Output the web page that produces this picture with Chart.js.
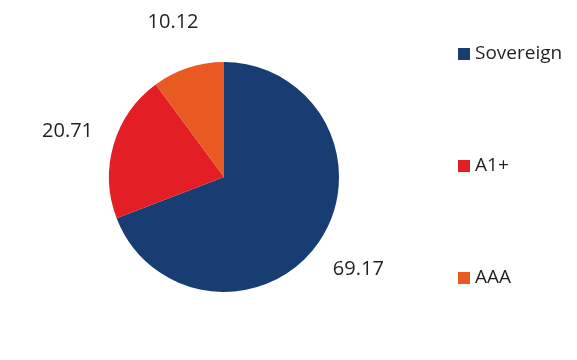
<!DOCTYPE html>
<html>
<head>
<meta charset="utf-8">
<script src="https://cdn.jsdelivr.net/npm/chart.js@4"></script>
<style>
  html, body { margin: 0; padding: 0; background: #fff; }
  #wrap { width: 577px; height: 360px; }
</style>
</head>
<body>
<div id="wrap"><canvas id="pieChart" width="577" height="360"></canvas></div>
<script>
const ratings = ['Sovereign', 'A1+', 'AAA'];
const shares = [69.17, 20.71, 10.12];
const sliceColors = ['#173d72', '#e31e24', '#e85a22'];

const FONT = '"Open Sans", "Noto Sans", sans-serif';
const TEXT_COLOR = '#231f20';

// value labels outside each slice, along the slice's middle angle
const outsideLabels = {
  id: 'outsideLabels',
  afterDatasetsDraw(chart) {
    const ctx = chart.ctx;
    const meta = chart.getDatasetMeta(0);
    ctx.save();
    ctx.font = '20px ' + FONT;
    ctx.fillStyle = TEXT_COLOR;
    ctx.textAlign = 'center';
    ctx.textBaseline = 'middle';
    meta.data.forEach((arc, i) => {
      const mid = (arc.startAngle + arc.endAngle) / 2;
      const dist = arc.outerRadius + 48;
      const x = arc.x + Math.cos(mid) * dist;
      const y = arc.y + Math.sin(mid) * dist;
      ctx.fillText(shares[i].toFixed(2), x, y);
    });
    ctx.restore();
  }
};

// legend on the right with large even gaps
const sideLegend = {
  id: 'sideLegend',
  afterDraw(chart) {
    const ctx = chart.ctx;
    const x0 = 458, y0 = 54, step = 112, box = 12;
    ctx.save();
    ctx.font = '19px ' + FONT;
    ctx.textBaseline = 'middle';
    ctx.textAlign = 'left';
    ratings.forEach((name, i) => {
      const y = y0 + i * step;
      ctx.fillStyle = sliceColors[i];
      ctx.fillRect(x0, y - box / 2, box, box);
      ctx.fillStyle = TEXT_COLOR;
      ctx.fillText(name, x0 + box + 5, y);
    });
    ctx.restore();
  }
};

new Chart(document.getElementById('pieChart'), {
  type: 'pie',
  data: {
    labels: ratings,
    datasets: [{
      data: shares,
      backgroundColor: sliceColors,
      borderWidth: 0
    }]
  },
  options: {
    responsive: false,
    animation: false,
    layout: { padding: { top: 62, bottom: 68, left: 50, right: 179 } },
    plugins: {
      legend: { display: false },
      tooltip: { enabled: false }
    }
  },
  plugins: [outsideLabels, sideLegend]
});
</script>
</body>
</html>
